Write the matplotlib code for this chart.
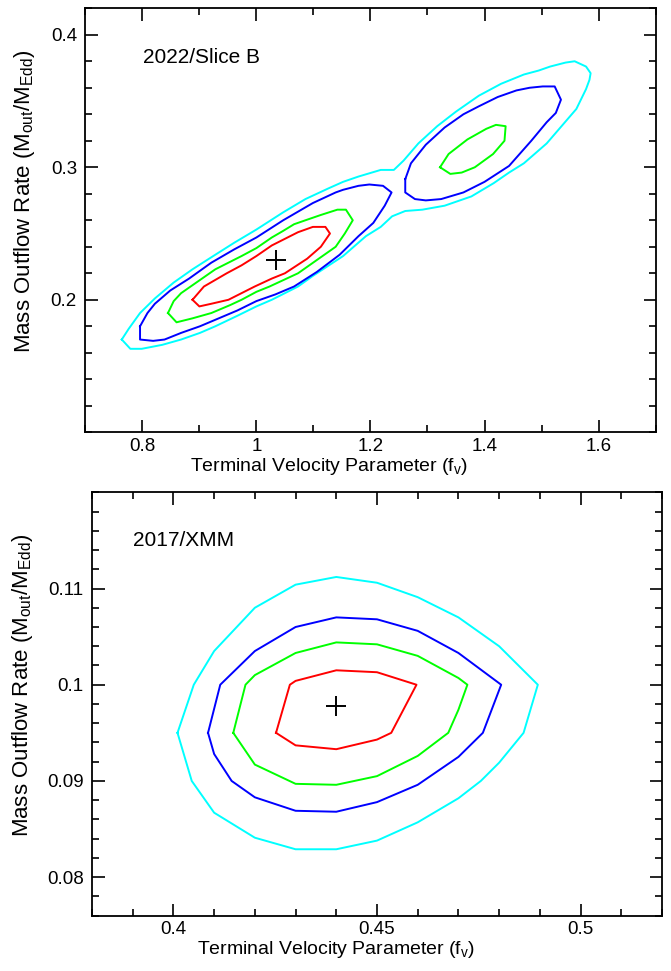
import matplotlib
matplotlib.use("Agg")
import matplotlib.pyplot as plt
from matplotlib.ticker import FixedLocator, MultipleLocator, FormatStrFormatter

plt.rcParams['font.family'] = ['Liberation Sans', 'DejaVu Sans']
plt.rcParams['mathtext.fontset'] = 'custom'
plt.rcParams['mathtext.rm'] = 'Liberation Sans'

# ---- 2022 / Slice B contours (x = f_v, y = Mdot/Medd) ----
b_cyan_x = [0.764, 0.779, 0.799, 0.835, 0.868, 0.901, 0.928, 0.967, 1.000, 1.027, 1.073, 1.099,
            1.152, 1.192, 1.218, 1.238, 1.261, 1.291, 1.330, 1.377, 1.416, 1.443, 1.469, 1.509,
            1.535, 1.561, 1.578, 1.584, 1.586, 1.578, 1.558, 1.542, 1.515, 1.495, 1.469, 1.429,
            1.390, 1.350, 1.317, 1.284, 1.258, 1.241, 1.218, 1.179, 1.152, 1.126, 1.086, 1.047,
            1.000, 0.961, 0.928, 0.888, 0.855, 0.822, 0.796, 0.776]
b_cyan_y = [0.170, 0.163, 0.163, 0.166, 0.170, 0.175, 0.180, 0.188, 0.195, 0.200, 0.210, 0.218,
            0.233, 0.248, 0.255, 0.263, 0.267, 0.268, 0.271, 0.278, 0.288, 0.296, 0.303, 0.318,
            0.331, 0.344, 0.359, 0.366, 0.371, 0.376, 0.380, 0.379, 0.376, 0.373, 0.370, 0.363,
            0.354, 0.342, 0.331, 0.318, 0.305, 0.298, 0.298, 0.293, 0.289, 0.284, 0.276, 0.266,
            0.253, 0.243, 0.234, 0.223, 0.213, 0.201, 0.190, 0.178]

b_blue1_x = [0.796, 0.796, 0.819, 0.839, 0.868, 0.901, 0.934, 0.967, 1.000, 1.033, 1.066, 1.106,
             1.146, 1.179, 1.205, 1.225, 1.237, 1.222, 1.198, 1.179, 1.152, 1.139, 1.099, 1.047,
             1.000, 0.961, 0.921, 0.882, 0.849, 0.822, 0.809]
b_blue1_y = [0.180, 0.170, 0.169, 0.170, 0.175, 0.180, 0.186, 0.192, 0.199, 0.204, 0.210, 0.221,
             0.234, 0.248, 0.258, 0.271, 0.281, 0.286, 0.287, 0.286, 0.283, 0.281, 0.273, 0.260,
             0.247, 0.238, 0.228, 0.216, 0.207, 0.197, 0.190]

b_blue2_x = [1.261, 1.261, 1.278, 1.297, 1.324, 1.363, 1.400, 1.443, 1.482, 1.509, 1.525, 1.534,
             1.523, 1.502, 1.479, 1.456, 1.423, 1.390, 1.363, 1.330, 1.297, 1.271]
b_blue2_y = [0.291, 0.281, 0.276, 0.275, 0.276, 0.281, 0.289, 0.301, 0.320, 0.334, 0.341, 0.351,
             0.361, 0.361, 0.360, 0.358, 0.353, 0.346, 0.340, 0.330, 0.317, 0.303]

b_green1_x = [0.845, 0.860, 0.888, 0.921, 0.954, 0.974, 1.000, 1.023, 1.053, 1.073, 1.106, 1.139,
              1.155, 1.169, 1.157, 1.142, 1.113, 1.086, 1.066, 1.047, 1.027, 1.000, 0.974, 0.928,
              0.888, 0.868, 0.855]
b_green1_y = [0.190, 0.183, 0.186, 0.190, 0.196, 0.200, 0.206, 0.210, 0.216, 0.220, 0.230, 0.240,
              0.250, 0.260, 0.268, 0.268, 0.264, 0.260, 0.257, 0.252, 0.247, 0.239, 0.233, 0.223,
              0.211, 0.205, 0.199]

b_green2_x = [1.322, 1.340, 1.360, 1.383, 1.415, 1.435, 1.437, 1.420, 1.403, 1.370, 1.337]
b_green2_y = [0.300, 0.295, 0.296, 0.300, 0.310, 0.320, 0.331, 0.332, 0.329, 0.321, 0.310]

b_red_x = [0.888, 0.900, 0.921, 0.951, 0.974, 0.997, 1.027, 1.050, 1.089, 1.113, 1.129, 1.121,
           1.099, 1.073, 1.050, 1.027, 1.000, 0.974, 0.948, 0.928, 0.908]
b_red_y = [0.200, 0.195, 0.197, 0.200, 0.205, 0.210, 0.216, 0.220, 0.231, 0.240, 0.250, 0.255,
           0.255, 0.251, 0.246, 0.241, 0.233, 0.226, 0.220, 0.215, 0.210]

b_best = (1.035, 0.230)

# ---- 2017 / XMM contours ----
x_cyan_x = [0.401, 0.405, 0.410, 0.420, 0.430, 0.440, 0.450, 0.460, 0.470, 0.480, 0.4895, 0.486,
            0.480, 0.4755, 0.470, 0.460, 0.450, 0.440, 0.430, 0.420, 0.410, 0.4045]
x_cyan_y = [0.095, 0.100, 0.1035, 0.108, 0.1104, 0.1112, 0.1106, 0.1091, 0.107, 0.104, 0.100, 0.095,
            0.0919, 0.090, 0.0882, 0.0857, 0.0838, 0.0829, 0.0829, 0.0841, 0.0867, 0.090]

x_blue_x = [0.4085, 0.4115, 0.420, 0.430, 0.440, 0.450, 0.460, 0.470, 0.4805, 0.476, 0.470, 0.460,
            0.450, 0.440, 0.430, 0.420, 0.4143, 0.410]
x_blue_y = [0.095, 0.100, 0.1035, 0.106, 0.107, 0.1068, 0.1056, 0.1033, 0.100, 0.095, 0.0925, 0.0896,
            0.0878, 0.0868, 0.0869, 0.0883, 0.090, 0.0928]

x_green_x = [0.4147, 0.4177, 0.420, 0.430, 0.440, 0.450, 0.460, 0.470, 0.4722, 0.470, 0.4675, 0.460,
             0.450, 0.440, 0.430, 0.420]
x_green_y = [0.095, 0.100, 0.101, 0.1033, 0.1044, 0.1042, 0.103, 0.1007, 0.100, 0.0974, 0.095, 0.0926,
             0.0905, 0.0896, 0.0897, 0.0917]

x_red_x = [0.4252, 0.4286, 0.430, 0.440, 0.450, 0.4597, 0.4535, 0.450, 0.440, 0.430]
x_red_y = [0.095, 0.100, 0.1004, 0.1015, 0.1013, 0.100, 0.095, 0.0943, 0.0933, 0.0937]

x_best = (0.44, 0.0978)

top_xticks = [0.8, 1.0, 1.2, 1.4, 1.6]
top_yticks = [0.2, 0.3, 0.4]
bot_xticks = [0.4, 0.45, 0.5]
bot_yticks = [0.08, 0.09, 0.1, 0.11]

CYAN, BLUE, GREEN, RED = '#00ffff', '#0000ff', '#00ff00', '#ff0000'


def closed(xs, ys):
    return list(xs) + [xs[0]], list(ys) + [ys[0]]


def style_axes(ax, xt, yt, xminor, yminor, ylab_x):
    ax.xaxis.set_major_locator(FixedLocator(xt))
    ax.yaxis.set_major_locator(FixedLocator(yt))
    ax.xaxis.set_minor_locator(MultipleLocator(xminor))
    ax.yaxis.set_minor_locator(MultipleLocator(yminor))
    ax.xaxis.set_major_formatter(FormatStrFormatter('%g'))
    ax.yaxis.set_major_formatter(FormatStrFormatter('%g'))
    ax.tick_params(which='both', direction='in', top=True, right=True, width=1.2, labelsize=13.5)
    ax.tick_params(axis='x', pad=4)
    ax.tick_params(axis='y', pad=6)
    ax.tick_params(which='major', length=9)
    ax.tick_params(which='minor', length=5)
    for s in ax.spines.values():
        s.set_linewidth(1.3)
    ax.set_xlabel(r'Terminal Velocity Parameter ($\mathregular{f_v}$)', fontsize=14)
    ax.xaxis.set_label_coords(0.428, -0.056)
    ax.set_ylabel(r'Mass Outflow Rate ($\mathregular{M_{out}/M_{Edd}}$)', fontsize=16)
    ax.yaxis.set_label_coords(ylab_x, 0.545)


fig = plt.figure(figsize=(6.71, 9.71), dpi=100)
ax1 = fig.add_axes([0.1271, 0.5548, 0.8500, 0.4367])
ax2 = fig.add_axes([0.1371, 0.0570, 0.8495, 0.4360])

lw = 1.4
for xs, ys, c in [(b_cyan_x, b_cyan_y, CYAN), (b_blue1_x, b_blue1_y, BLUE), (b_blue2_x, b_blue2_y, BLUE),
                  (b_green1_x, b_green1_y, GREEN), (b_green2_x, b_green2_y, GREEN), (b_red_x, b_red_y, RED)]:
    px, py = closed(xs, ys)
    ax1.plot(px, py, color=c, lw=lw)
ax1.plot(*b_best, marker='+', color='black', ms=14, mew=1.4)
ax1.set_xlim(0.7, 1.7)
ax1.set_ylim(0.1, 0.42)
style_axes(ax1, top_xticks, top_yticks, 0.1, 0.02, -0.084)
ax1.text(0.101, 0.885, '2022/Slice B', transform=ax1.transAxes, fontsize=15, va='center')

for xs, ys, c in [(x_cyan_x, x_cyan_y, CYAN), (x_blue_x, x_blue_y, BLUE),
                  (x_green_x, x_green_y, GREEN), (x_red_x, x_red_y, RED)]:
    px, py = closed(xs, ys)
    ax2.plot(px, py, color=c, lw=lw)
ax2.plot(*x_best, marker='+', color='black', ms=14, mew=1.4)
ax2.set_xlim(0.38, 0.52)
ax2.set_ylim(0.076, 0.12)
style_axes(ax2, bot_xticks, bot_yticks, 0.01, 0.002, -0.100)
ax2.text(0.072, 0.887, '2017/XMM', transform=ax2.transAxes, fontsize=15, va='center')

fig.savefig('out.png', dpi=100)
